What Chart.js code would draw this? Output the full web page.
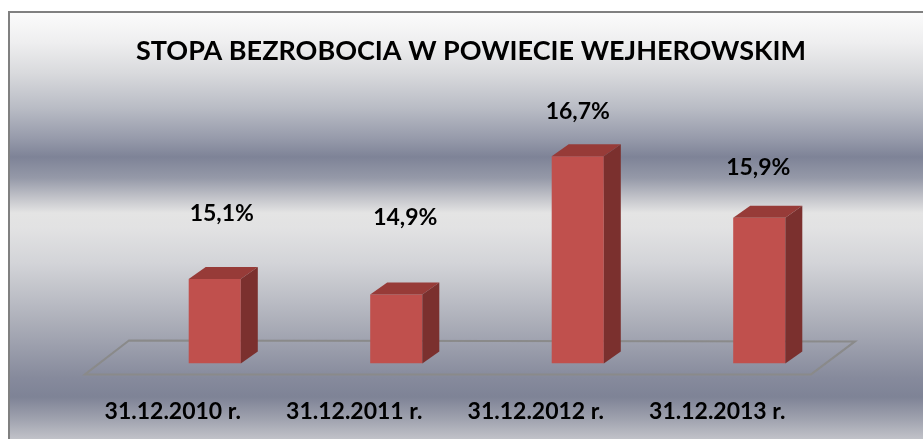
<!DOCTYPE html>
<html>
<head>
<meta charset="utf-8">
<script src="https://cdn.jsdelivr.net/npm/chart.js@4/dist/chart.umd.min.js"></script>
<style>
  html, body { margin: 0; padding: 0; background: #ffffff; }
  #wrap { position: relative; width: 923px; height: 439px; overflow: hidden; }
  #bg {
    position: absolute; left: 8px; top: 11px; width: 940px; height: 440px;
    border-top: 2px solid #808080; border-left: 2px solid #808080;
    background: linear-gradient(to bottom,
      #fbfbfb 0px, #eeeeef 30px, #d9dadd 60px, #b9bcc5 95px, #979bab 125px,
      #7e8397 144px, #9599a8 165px, #c3c4ca 185px, #e4e4e4 200px, #e2e2e3 215px,
      #d3d4d8 250px, #b9bbc3 290px, #9ea1ae 330px, #868a9c 365px, #7e8396 384px,
      #9c9fac 404px, #c4c5cb 428px);
  }
  #c { position: absolute; left: 0; top: 0; }
</style>
</head>
<body>
<div id="wrap">
  <div id="bg"></div>
  <canvas id="c" width="923" height="439"></canvas>
</div>
<script>
const categories = ['31.12.2010 r.', '31.12.2011 r.', '31.12.2012 r.', '31.12.2013 r.'];
const values = [15.1, 14.9, 16.7, 15.9];
const valueLabels = ['15,1%', '14,9%', '16,7%', '15,9%'];
const chartTitle = 'STOPA BEZROBOCIA W POWIECIE WEJHEROWSKIM';
const axisMin = 14;
const axisMax = 17.86;

// style: label placement relative to each bar top (px)
const labelShiftX = [7, 9, 0, -1];
const labelShiftY = [65, 77, 45, 50];

const FONT = 'Lato, "Open Sans", sans-serif';
const DEPTH_X = 17, DEPTH_Y = -12;

const threeD = {
  id: 'threeD',
  beforeDatasetsDraw(chart) {
    const ctx = chart.ctx;
    const a = chart.chartArea;
    const base = chart.scales.y.getPixelForValue(axisMin);
    ctx.save();
    ctx.strokeStyle = '#8a8a8a';
    ctx.lineWidth = 2;
    ctx.beginPath();
    ctx.moveTo(a.left - 39, base + 11);
    ctx.lineTo(a.left + 5, base - 23);
    ctx.lineTo(a.right + 5, base - 22);
    ctx.lineTo(a.right - 39, base + 11);
    ctx.closePath();
    ctx.stroke();
    ctx.restore();
  },
  afterDatasetsDraw(chart) {
    const ctx = chart.ctx;
    const meta = chart.getDatasetMeta(0);
    const base = chart.scales.y.getPixelForValue(axisMin);
    ctx.save();
    meta.data.forEach((bar, i) => {
      const w = bar.width;
      const x0 = bar.x - w / 2, x1 = bar.x + w / 2;
      const top = bar.y;
      ctx.fillStyle = '#973b38';
      ctx.beginPath();
      ctx.moveTo(x0, top);
      ctx.lineTo(x0 + DEPTH_X, top + DEPTH_Y);
      ctx.lineTo(x1 + DEPTH_X, top + DEPTH_Y);
      ctx.lineTo(x1, top);
      ctx.closePath();
      ctx.fill();
      ctx.fillStyle = '#7b302e';
      ctx.beginPath();
      ctx.moveTo(x1, top);
      ctx.lineTo(x1 + DEPTH_X, top + DEPTH_Y);
      ctx.lineTo(x1 + DEPTH_X, base + DEPTH_Y);
      ctx.lineTo(x1, base);
      ctx.closePath();
      ctx.fill();
      ctx.fillStyle = '#000000';
      ctx.font = 'bold 23px ' + FONT;
      ctx.textAlign = 'center';
      ctx.textBaseline = 'middle';
      ctx.fillText(valueLabels[i], bar.x + labelShiftX[i], top - labelShiftY[i]);
    });
    ctx.restore();
  }
};

new Chart(document.getElementById('c'), {
  type: 'bar',
  data: {
    labels: categories,
    datasets: [{
      data: values,
      base: axisMin,
      backgroundColor: '#c0504d',
      borderWidth: 0,
      barPercentage: 0.287,
      categoryPercentage: 1.0
    }]
  },
  options: {
    responsive: false,
    animation: false,
    events: [],
    layout: { padding: { left: 19, right: 0, top: 0, bottom: -20 } },
    plugins: {
      legend: { display: false },
      tooltip: { enabled: false },
      title: {
        display: true,
        text: chartTitle,
        color: '#000000',
        font: { family: FONT, size: 27, weight: 'bold', lineHeight: 1.2 },
        padding: { top: 35, bottom: 0 }
      }
    },
    scales: {
      x: {
        grid: { display: false, drawTicks: false },
        border: { display: false },
        ticks: {
          color: '#000000',
          font: { family: FONT, size: 23, weight: 'bold', lineHeight: 1.2 },
          padding: 34,
          labelOffset: -42,
          maxRotation: 0,
          autoSkip: false
        }
      },
      y: {
        position: 'left',
        min: axisMin,
        max: axisMax,
        grid: { display: false, drawTicks: false },
        border: { display: false },
        ticks: { display: false },
        afterFit: s => { s.width = 105; }
      },
      yr: {
        position: 'right',
        min: axisMin,
        max: axisMax,
        grid: { display: false, drawTicks: false },
        border: { display: false },
        ticks: { display: false },
        afterFit: s => { s.width = 73; }
      }
    }
  },
  plugins: [threeD]
});
</script>
</body>
</html>
